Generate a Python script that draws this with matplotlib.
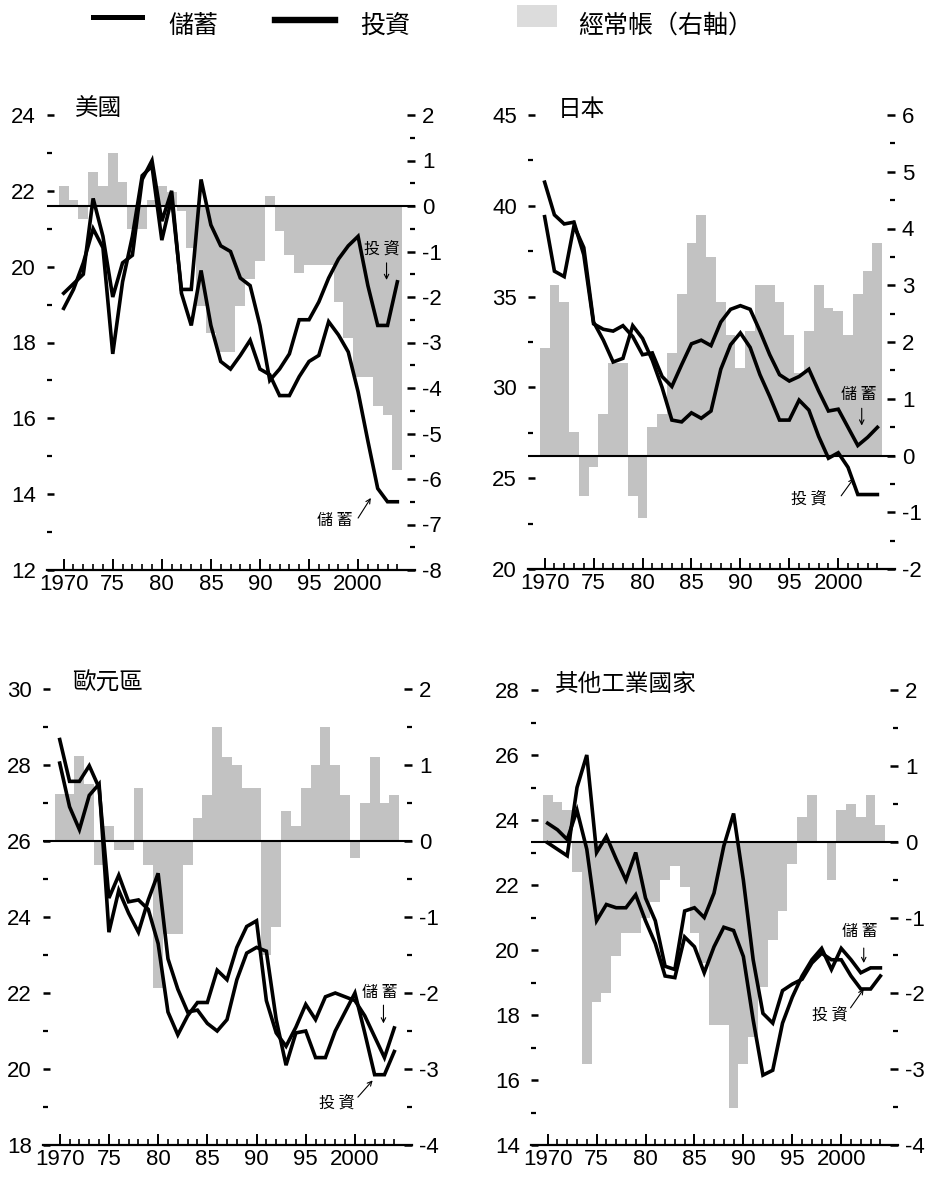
import matplotlib
matplotlib.use('Agg')
import matplotlib.pyplot as plt
from matplotlib.lines import Line2D
from matplotlib.patches import Rectangle
from matplotlib import font_manager

# ---------------- data ----------------
years = list(range(1970, 2005))
xtick_years = [1970, 1975, 1980, 1985, 1990, 1995, 2000]
xtick_labels = ['1970', '75', '80', '85', '90', '95', '2000']

us_saving = [19.3, 19.55, 19.8, 21.8, 20.8, 19.2, 20.1, 20.3, 22.3, 22.8,
             21.2, 22.0, 19.3, 18.45, 19.9, 18.45, 17.5, 17.3, 17.66, 18.06,
             17.3, 17.15, 16.6, 16.6, 17.1, 17.5, 17.66, 18.55, 18.2, 17.75,
             16.7, 15.4, 14.15, 13.8, 13.8]
us_invest = [18.9, 19.4, 20.1, 21.0, 20.5, 17.7, 19.6, 20.8, 22.4, 22.65,
             20.7, 21.8, 19.4, 19.4, 22.3, 21.1, 20.55, 20.4, 19.7, 19.5,
             18.45, 17.0, 17.3, 17.7, 18.6, 18.6, 19.07, 19.7, 20.2, 20.55,
             20.8, 19.5, 18.45, 18.45, 19.6]
us_ca = [0.45, 0.13, -0.29, 0.74, 0.45, 1.17, 0.52, -0.5, -0.5, 0.13,
         0.45, 0.3, -0.1, -0.93, -2.2, -2.8, -3.2, -3.2, -2.2, -1.6,
         -1.2, 0.23, -0.56, -1.07, -1.47, -1.3, -1.3, -1.3, -2.1, -2.9,
         -3.75, -3.75, -4.4, -4.6, -5.8]

jp_saving = [41.3, 39.5, 39.0, 39.1, 37.3, 33.5, 33.2, 33.1, 33.4, 32.8,
             31.8, 31.9, 30.6, 30.05, 31.25, 32.4, 32.6, 32.3, 33.6, 34.3,
             34.5, 34.3, 33.1, 31.8, 30.7, 30.35, 30.6, 31.0, 29.8, 28.7,
             28.8, 27.8, 26.8, 27.25, 27.8]
jp_invest = [39.4, 36.4, 36.1, 38.9, 37.7, 33.6, 32.6, 31.4, 31.6, 33.4,
             32.7, 31.5, 30.0, 28.2, 28.1, 28.6, 28.3, 28.7, 31.0, 32.35,
             33.0, 32.2, 30.7, 29.5, 28.2, 28.2, 29.3, 28.75, 27.3, 26.1,
             26.4, 25.6, 24.1, 24.1, 24.1]
jp_ca = [1.9, 3.0, 2.7, 0.42, -0.72, -0.2, 0.73, 1.63, 1.63, -0.72,
         -1.1, 0.5, 0.73, 1.8, 2.85, 3.75, 4.24, 3.5, 2.7, 2.13,
         1.54, 2.2, 3.0, 3.0, 2.7, 2.13, 1.45, 2.2, 3.0, 2.6,
         2.55, 2.13, 2.85, 3.25, 3.75]

ea_saving = [28.67, 27.57, 27.57, 27.98, 27.4, 24.5, 25.1, 24.4, 24.45, 24.2,
             23.3, 21.5, 20.9, 21.4, 21.75, 21.75, 22.6, 22.35, 23.2, 23.75,
             23.9, 21.8, 20.95, 20.6, 21.1, 21.7, 21.3, 21.9, 22.0, 21.9,
             21.8, 21.4, 20.85, 20.3, 21.08]
ea_invest = [28.05, 26.9, 26.3, 27.2, 27.5, 23.6, 24.7, 24.1, 23.6, 24.45,
             25.15, 22.9, 22.1, 21.5, 21.55, 21.2, 21.0, 21.3, 22.35, 23.05,
             23.2, 23.1, 21.3, 20.1, 20.95, 21.0, 20.3, 20.3, 21.0, 21.5,
             22.0, 20.95, 19.85, 19.85, 20.46]
ea_ca = [0.62, 0.62, 1.12, 0.75, -0.32, 0.2, -0.12, -0.12, 0.7, -0.31,
         -1.94, -1.23, -1.23, -0.32, 0.3, 0.61, 1.5, 1.11, 1.0, 0.7,
         0.7, -1.5, -1.13, 0.4, 0.2, 0.7, 1.0, 1.5, 1.0, 0.61,
         -0.22, 0.5, 1.1, 0.5, 0.61]

ot_saving = [23.9, 23.7, 23.4, 24.3, 23.1, 20.9, 21.4, 21.3, 21.3, 21.7,
             20.9, 20.2, 19.2, 19.15, 20.4, 20.1, 19.3, 20.1, 20.7, 20.6,
             19.8, 17.85, 16.15, 16.3, 17.75, 18.55, 19.2, 19.7, 20.05, 19.4,
             20.05, 19.7, 19.3, 19.45, 19.45]
ot_invest = [23.3, 23.1, 22.9, 25.0, 26.0, 23.0, 23.5, 22.8, 22.15, 23.0,
             21.6, 20.9, 19.5, 19.4, 21.2, 21.3, 21.0, 21.75, 23.2, 24.2,
             22.15, 19.7, 18.05, 17.75, 18.75, 18.95, 19.1, 19.6, 19.9, 19.7,
             19.7, 19.2, 18.8, 18.8, 19.2]
ot_ca = [0.62, 0.52, 0.42, -0.4, -2.93, -2.11, -2.0, -1.51, -1.2, -1.21,
         -1.0, -0.8, -0.51, -0.32, -0.6, -1.21, -1.6, -2.42, -2.42, -3.51,
         -2.93, -2.57, -1.92, -1.3, -0.91, -0.3, 0.32, 0.62, 0.0, -0.51,
         0.42, 0.5, 0.32, 0.62, 0.22]

titles = ['美國', '日本', '歐元區', '其他工業國家']
legend_labels = ['儲蓄', '投資', '經常帳（右軸）']
label_saving = '儲 蓄'
label_invest = '投 資'

# ---------------- style ----------------
names = {f.name for f in font_manager.fontManager.ttflist}
NUM = 'Liberation Sans Narrow' if 'Liberation Sans Narrow' in names else 'Liberation Sans'
NUM_SIZE = 18 if NUM.endswith('Narrow') else 16
CJK = ['Noto Sans CJK TC', 'DejaVu Sans']
plt.rcParams['font.family'] = CJK
plt.rcParams['axes.unicode_minus'] = False

W, H = 926, 1180
fig = plt.figure(figsize=(W / 100, H / 100), dpi=100)


def fx(px):
    return px / W


def fy(py):
    return 1 - py / H


BAR = '#c2c2c2'
LW = 2.6

panels = [
    dict(rect=(47, 115, 415, 570), S=us_saving, I=us_invest, CA=us_ca,
         ylim=(12, 24), ymaj=range(12, 25, 2), ymin=range(13, 24, 2),
         rlim=(-8, 2), rmaj=range(-8, 3), rmin=[x + 0.5 for x in range(-8, 2)],
         title=titles[0], tx=0.076,
         sav_txt=(1997.6, 13.3), sav_arr=((2000.0, 13.37), (2001.3, 13.9)),
         inv_txt=(2002.4, 20.47), inv_arr=((2002.9, 20.1), (2002.9, 19.65))),
    dict(rect=(528, 115, 895, 569), S=jp_saving, I=jp_invest, CA=jp_ca,
         ylim=(20, 45), ymaj=range(20, 46, 5), ymin=[22.5, 27.5, 32.5, 37.5, 42.5],
         rlim=(-2, 6), rmaj=range(-2, 7), rmin=[x + 0.5 for x in range(-2, 6)],
         title=titles[1], tx=0.082,
         sav_txt=(2002.1, 29.6), sav_arr=((2002.4, 28.85), (2002.4, 27.9)),
         inv_txt=(1997.0, 23.86), inv_arr=((2000.3, 24.03), (2001.6, 25.0))),
    dict(rect=(43, 689, 412, 1145), S=ea_saving, I=ea_invest, CA=ea_ca,
         ylim=(18, 30), ymaj=range(18, 31, 2), ymin=range(19, 30, 2),
         rlim=(-4, 2), rmaj=range(-4, 3), rmin=[x + 0.5 for x in range(-4, 2)],
         title=titles[2], tx=0.079,
         sav_txt=(2002.5, 22.0), sav_arr=((2002.9, 21.68), (2002.9, 21.2)),
         inv_txt=(1998.2, 19.1), inv_arr=((2000.3, 19.26), (2001.8, 19.7))),
    dict(rect=(531, 690, 898, 1145), S=ot_saving, I=ot_invest, CA=ot_ca,
         ylim=(14, 28), ymaj=range(14, 29, 2), ymin=range(15, 28, 2),
         rlim=(-4, 2), rmaj=range(-4, 3), rmin=[x + 0.5 for x in range(-4, 2)],
         title=titles[3], tx=0.065,
         sav_txt=(2001.9, 20.58), sav_arr=((2002.3, 20.06), (2002.3, 19.6)),
         inv_txt=(1998.8, 18.0), inv_arr=((2000.95, 18.22), (2002.3, 18.8))),
]

for p in panels:
    x0, y0, x1, y1 = p['rect']
    ax = fig.add_axes([fx(x0), fy(y1), fx(x1) - fx(x0), fy(y0) - fy(y1)])
    ax2 = ax.twinx()
    ax2.bar(years, p['CA'], width=1.0, color=BAR, linewidth=0, zorder=1)
    ax2.axhline(0, color='black', lw=1.5, zorder=2)
    ax2.set_ylim(*p['rlim'])
    ax.plot(years, p['S'], color='black', lw=LW, solid_joinstyle='miter')
    ax.plot(years, p['I'], color='black', lw=LW, solid_joinstyle='miter')
    ax.set_zorder(ax2.get_zorder() + 1)
    ax.patch.set_visible(False)
    ax.set_xlim(1968.3, 2005.8)
    ax.set_ylim(*p['ylim'])

    for s in ['top', 'left', 'right']:
        ax.spines[s].set_visible(False)
    ax.spines['bottom'].set_linewidth(1.6)
    for s in ax2.spines.values():
        s.set_visible(False)

    ax.set_xticks(xtick_years)
    ax.set_xticklabels(xtick_labels)
    ax.set_xticks(years, minor=True)
    ax.tick_params(axis='x', which='major', direction='in', length=8, width=1.4,
                   pad=3, labelsize=NUM_SIZE, labelfontfamily=NUM)
    ax.tick_params(axis='x', which='minor', direction='in', length=4.5, width=1.2)

    ax.set_yticks(list(p['ymaj']))
    ax.set_yticks(list(p['ymin']), minor=True)
    ax.tick_params(axis='y', which='major', direction='in', length=5, width=1.8,
                   pad=8, labelsize=NUM_SIZE, labelfontfamily=NUM)
    ax.tick_params(axis='y', which='minor', direction='in', length=3.5, width=1.6)

    ax2.set_yticks(list(p['rmaj']))
    ax2.set_yticks(list(p['rmin']), minor=True)
    ax2.tick_params(axis='y', which='major', direction='in', length=6, width=1.8,
                    pad=5, labelsize=NUM_SIZE, labelfontfamily=NUM)
    ax2.tick_params(axis='y', which='minor', direction='in', length=3.5, width=1.6)

    ax.text(p['tx'], 1.013, p['title'], transform=ax.transAxes, fontsize=17,
            ha='left', va='center', fontfamily=CJK)

    ax.text(*p['sav_txt'], label_saving, fontsize=11.5, ha='center', va='center',
            fontfamily=CJK)
    ax.annotate('', xy=p['sav_arr'][1], xytext=p['sav_arr'][0],
                arrowprops=dict(arrowstyle='->', lw=0.8, color='black',
                                mutation_scale=8, shrinkA=0, shrinkB=0))
    ax.text(*p['inv_txt'], label_invest, fontsize=11.5, ha='center', va='center',
            fontfamily=CJK)
    ax.annotate('', xy=p['inv_arr'][1], xytext=p['inv_arr'][0],
                arrowprops=dict(arrowstyle='->', lw=0.8, color='black',
                                mutation_scale=8, shrinkA=0, shrinkB=0))

# ---------------- legend ----------------
fig.add_artist(Line2D([fx(93), fx(142)], [fy(17), fy(17)], color='black', lw=3.6))
fig.text(fx(168), fy(26), legend_labels[0], fontsize=18, ha='left', va='center')
fig.add_artist(Line2D([fx(275), fx(335)], [fy(20), fy(20)], color='black', lw=4.6))
fig.text(fx(360), fy(26), legend_labels[1], fontsize=18, ha='left', va='center')
fig.add_artist(Rectangle((fx(517), fy(27)), fx(557) - fx(517), fy(5) - fy(27),
                         transform=fig.transFigure, color='#dcdcdc', lw=0))
fig.text(fx(578), fy(26), legend_labels[2], fontsize=18, ha='left', va='center')

fig.savefig('out.png', dpi=100)
